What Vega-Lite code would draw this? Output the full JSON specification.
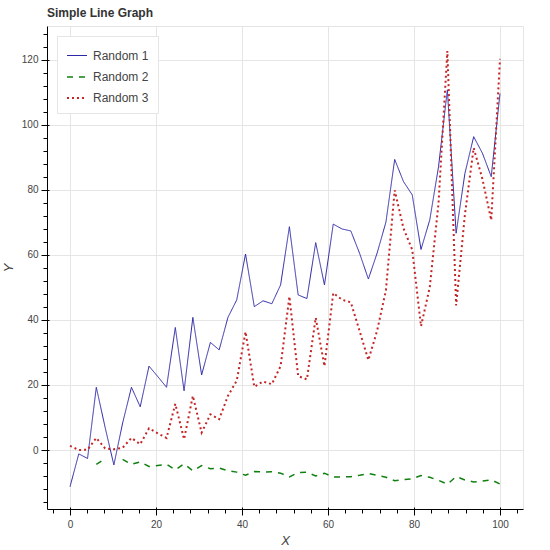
{
  "$schema": "https://vega.github.io/schema/vega-lite/v6.json",
  "width": 476,
  "height": 483,
  "autosize": {"type": "none"},
  "padding": {"left": 47, "top": 26, "right": 27, "bottom": 41},
  "title": {"text": "Simple Line Graph", "anchor": "start", "frame": "group", "font": "Liberation Sans", "fontSize": 12, "fontWeight": "bold", "color": "#333333", "offset": 6},
  "config": {
    "view": {"stroke": "#e5e5e5", "strokeWidth": 1},
    "axis": {"labelFont": "Liberation Sans", "titleFont": "Liberation Sans", "labelColor": "#444444", "titleColor": "#444444", "labelFontSize": 10, "titleFontSize": 13, "titleFontStyle": "italic", "titleFontWeight": "normal", "domainColor": "#000000", "tickColor": "#000000", "gridColor": "#e5e5e5", "gridOpacity": 1},
    "legend": {"orient": "top-left", "offset": 10, "padding": 9, "strokeColor": "#e5e5e5", "fillColor": "white", "symbolSize": 400, "symbolType": "stroke", "labelFont": "Liberation Sans", "labelFontSize": 12, "labelColor": "#444444", "labelOffset": 5, "rowPadding": 4, "cornerRadius": 0}
  },
  "data": {"values": [
    {"x": 0, "Random 1": -11.3, "Random 2": null, "Random 3": 1.28},
    {"x": 2.04, "Random 1": -1.2, "Random 2": null, "Random 3": 0.01},
    {"x": 4.08, "Random 1": -2.6, "Random 2": null, "Random 3": 0.07},
    {"x": 6.12, "Random 1": 19.3, "Random 2": -4.39, "Random 3": 3.72},
    {"x": 8.16, "Random 1": 7.0, "Random 2": -2.65, "Random 3": 0.49},
    {"x": 10.2, "Random 1": -4.6, "Random 2": null, "Random 3": 0.21},
    {"x": 12.24, "Random 1": 8.3, "Random 2": -2.88, "Random 3": 0.69},
    {"x": 14.29, "Random 1": 19.3, "Random 2": -4.39, "Random 3": 3.72},
    {"x": 16.33, "Random 1": 13.3, "Random 2": -3.65, "Random 3": 1.77},
    {"x": 18.37, "Random 1": 25.8, "Random 2": -5.08, "Random 3": 6.66},
    {"x": 20.41, "Random 1": 22.6, "Random 2": -4.75, "Random 3": 5.11},
    {"x": 22.45, "Random 1": 19.3, "Random 2": -4.39, "Random 3": 3.72},
    {"x": 24.49, "Random 1": 37.7, "Random 2": -6.14, "Random 3": 14.21},
    {"x": 26.53, "Random 1": 18.2, "Random 2": -4.27, "Random 3": 3.31},
    {"x": 28.57, "Random 1": 40.8, "Random 2": -6.39, "Random 3": 16.65},
    {"x": 30.61, "Random 1": 23.1, "Random 2": -4.81, "Random 3": 5.34},
    {"x": 32.65, "Random 1": 33.1, "Random 2": -5.75, "Random 3": 10.96},
    {"x": 34.69, "Random 1": 30.8, "Random 2": -5.55, "Random 3": 9.49},
    {"x": 36.73, "Random 1": 40.8, "Random 2": -6.39, "Random 3": 16.65},
    {"x": 38.78, "Random 1": 46.2, "Random 2": -6.8, "Random 3": 21.34},
    {"x": 40.82, "Random 1": 60.3, "Random 2": -7.77, "Random 3": 36.36},
    {"x": 42.86, "Random 1": 44.1, "Random 2": -6.64, "Random 3": 19.45},
    {"x": 44.9, "Random 1": 45.9, "Random 2": -6.77, "Random 3": 21.07},
    {"x": 46.94, "Random 1": 45.0, "Random 2": -6.71, "Random 3": 20.25},
    {"x": 48.98, "Random 1": 50.8, "Random 2": -7.13, "Random 3": 25.81},
    {"x": 51.02, "Random 1": 68.7, "Random 2": -8.29, "Random 3": 47.2},
    {"x": 53.06, "Random 1": 47.7, "Random 2": -6.91, "Random 3": 22.75},
    {"x": 55.1, "Random 1": 46.6, "Random 2": -6.83, "Random 3": 21.72},
    {"x": 57.14, "Random 1": 63.8, "Random 2": -7.99, "Random 3": 40.7},
    {"x": 59.18, "Random 1": 50.8, "Random 2": -7.13, "Random 3": 25.81},
    {"x": 61.22, "Random 1": 69.5, "Random 2": -8.34, "Random 3": 48.3},
    {"x": 63.27, "Random 1": 68.0, "Random 2": -8.25, "Random 3": 46.24},
    {"x": 65.31, "Random 1": 67.4, "Random 2": -8.21, "Random 3": 45.43},
    {"x": 67.35, "Random 1": 60.5, "Random 2": -7.78, "Random 3": 36.6},
    {"x": 69.39, "Random 1": 52.6, "Random 2": -7.25, "Random 3": 27.67},
    {"x": 71.43, "Random 1": 60.6, "Random 2": -7.78, "Random 3": 36.72},
    {"x": 73.47, "Random 1": 70.1, "Random 2": -8.37, "Random 3": 49.14},
    {"x": 75.51, "Random 1": 89.4, "Random 2": -9.46, "Random 3": 79.92},
    {"x": 77.55, "Random 1": 82.6, "Random 2": -9.09, "Random 3": 68.23},
    {"x": 79.59, "Random 1": 78.5, "Random 2": -8.86, "Random 3": 61.62},
    {"x": 81.63, "Random 1": 61.7, "Random 2": -7.85, "Random 3": 38.07},
    {"x": 83.67, "Random 1": 70.8, "Random 2": -8.41, "Random 3": 50.13},
    {"x": 85.71, "Random 1": 87.2, "Random 2": -9.34, "Random 3": 76.04},
    {"x": 87.76, "Random 1": 110.8, "Random 2": -10.53, "Random 3": 122.77},
    {"x": 89.8, "Random 1": 66.7, "Random 2": -8.17, "Random 3": 44.49},
    {"x": 91.84, "Random 1": 85.1, "Random 2": -9.22, "Random 3": 72.42},
    {"x": 93.88, "Random 1": 96.4, "Random 2": -9.82, "Random 3": 92.93},
    {"x": 95.92, "Random 1": 91.3, "Random 2": -9.56, "Random 3": 83.36},
    {"x": 97.96, "Random 1": 84.1, "Random 2": -9.17, "Random 3": 70.73},
    {"x": 100, "Random 1": 109.7, "Random 2": -10.47, "Random 3": 120.34}
  ]},
  "transform": [{"fold": ["Random 1", "Random 2", "Random 3"], "as": ["series", "y"]}],
  "resolve": {"axis": {"x": "independent", "y": "independent"}},
  "layer": [
    {
      "mark": {"type": "point", "opacity": 0},
      "encoding": {
        "x": {"field": "x", "type": "quantitative", "scale": {"domain": [-5.35, 105.35], "nice": false, "zero": false},
          "axis": {"orient": "bottom", "values": [-4, 0, 4, 8, 12, 16, 20, 24, 28, 32, 36, 40, 44, 48, 52, 56, 60, 64, 68, 72, 76, 80, 84, 88, 92, 96, 100, 104], "tickSize": 4, "labels": false, "domain": false, "grid": false, "title": null}},
        "y": {"field": "y", "type": "quantitative", "scale": {"domain": [-18.15, 130.45], "nice": false, "zero": false},
          "axis": {"orient": "left", "values": [-16, -12, -8, -4, 0, 4, 8, 12, 16, 20, 24, 28, 32, 36, 40, 44, 48, 52, 56, 60, 64, 68, 72, 76, 80, 84, 88, 92, 96, 100, 104, 108, 112, 116, 120, 124, 128], "tickSize": 4, "labels": false, "domain": false, "grid": false, "title": null}}
      }
    },
    {
      "mark": {"type": "point", "opacity": 0},
      "encoding": {
        "x": {"field": "x", "type": "quantitative",
          "axis": {"orient": "bottom", "values": [0, 20, 40, 60, 80, 100], "tickSize": -2, "labels": false, "domain": false, "grid": false, "title": null}},
        "y": {"field": "y", "type": "quantitative",
          "axis": {"orient": "left", "values": [0, 20, 40, 60, 80, 100, 120], "tickSize": -2, "labels": false, "domain": false, "grid": false, "title": null}}
      }
    },
    {
      "mark": {"type": "line", "invalid": "break-paths-show-domains"},
      "encoding": {
        "x": {"field": "x", "type": "quantitative",
          "axis": {"orient": "bottom", "values": [0, 20, 40, 60, 80, 100], "tickSize": 6, "labelPadding": 4, "grid": true, "title": "X", "titlePadding": 5}},
        "y": {"field": "y", "type": "quantitative",
          "axis": {"orient": "left", "values": [0, 20, 40, 60, 80, 100, 120], "tickSize": 6, "labelPadding": 3, "grid": true, "title": "Y", "titlePadding": 6}},
        "color": {"field": "series", "type": "nominal", "scale": {"domain": ["Random 1", "Random 2", "Random 3"], "range": ["#2c28a8", "#108010", "#c42424"]}, "legend": {"title": null}},
        "strokeDash": {"field": "series", "type": "nominal", "scale": {"domain": ["Random 1", "Random 2", "Random 3"], "range": [[1, 0], [6, 6], [2, 3]]}, "legend": {"title": null}},
        "strokeWidth": {"field": "series", "type": "nominal", "scale": {"domain": ["Random 1", "Random 2", "Random 3"], "range": [1, 2, 2]}, "legend": {"title": null}}
      }
    }
  ]
}
